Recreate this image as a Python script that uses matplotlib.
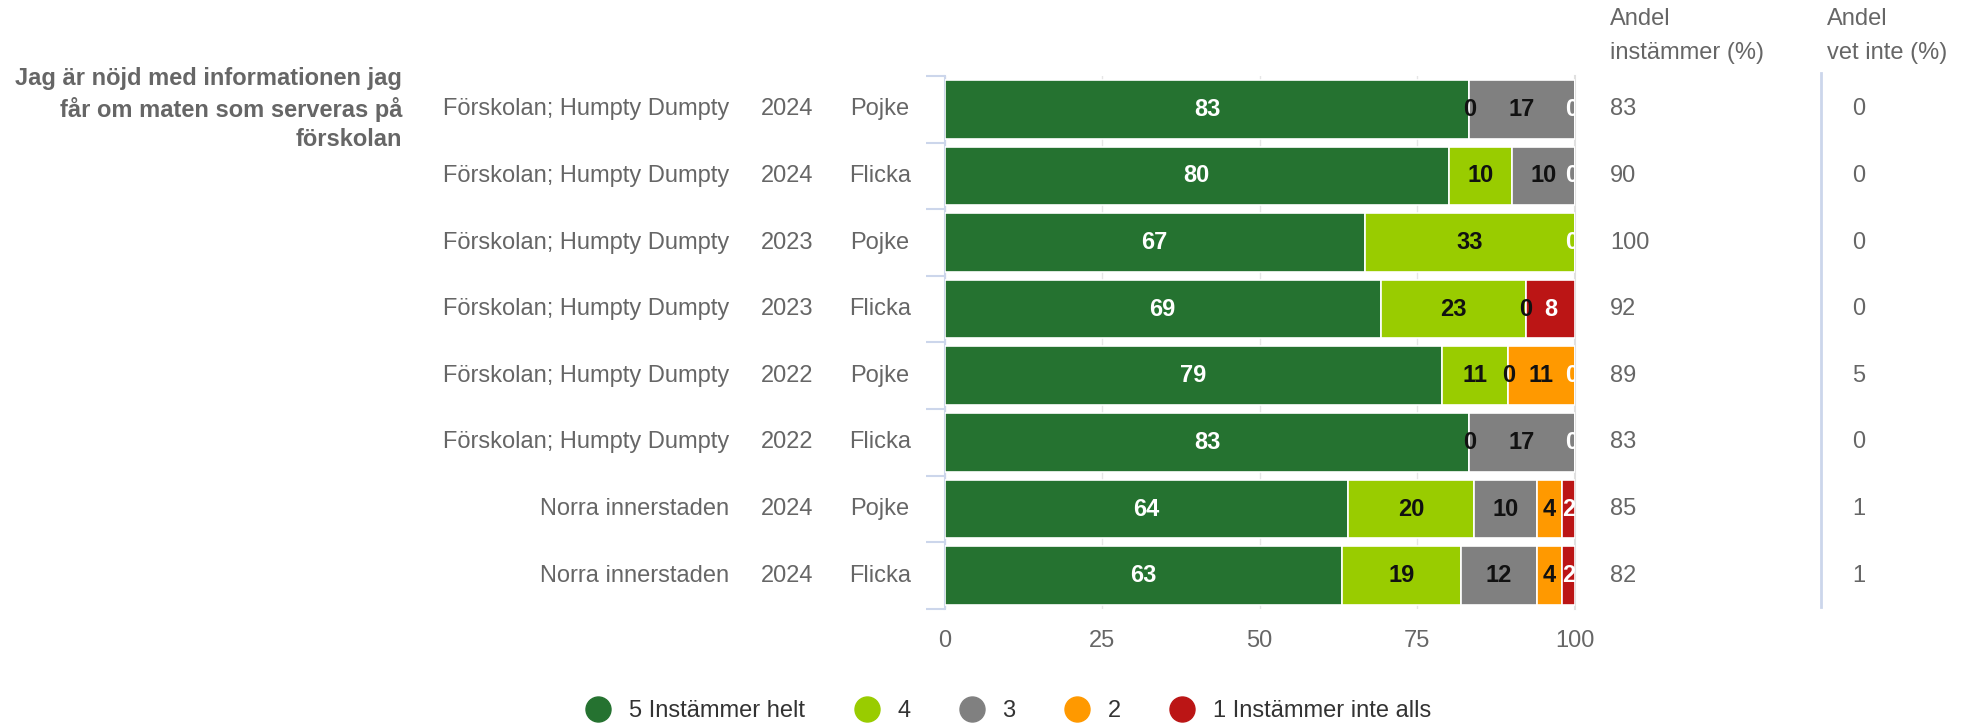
import numpy as np
import matplotlib
matplotlib.use("Agg")
import matplotlib.pyplot as plt
from matplotlib.transforms import blended_transform_factory
from matplotlib.lines import Line2D

plt.rcParams['font.family'] = ['Liberation Sans', 'DejaVu Sans']

question_lines = ["Jag är nöjd med informationen jag", "får om maten som serveras på", "förskolan"]
units = ["Förskolan; Humpty Dumpty"] * 6 + ["Norra innerstaden"] * 2
years = ["2024", "2024", "2023", "2023", "2022", "2022", "2024", "2024"]
genders = ["Pojke", "Flicka", "Pojke", "Flicka", "Pojke", "Flicka", "Pojke", "Flicka"]

series_names = ["5 Instämmer helt", "4", "3", "2", "1 Instämmer inte alls"]
series_colors = ["#257230", "#99cc00", "#808080", "#ff9900", "#bb1515"]
label_colors = ["white", "#111111", "#111111", "#111111", "white"]

# percent per answer, rows top to bottom
s5 = [83.3, 80.0, 66.7, 69.2, 78.94, 83.3, 64.0, 63.0]
s4 = [0.0, 10.0, 33.3, 23.1, 10.53, 0.0, 20.0, 19.0]
s3 = [16.7, 10.0, 0.0, 0.0, 0.0, 16.7, 10.0, 12.0]
s2 = [0.0, 0.0, 0.0, 0.0, 10.53, 0.0, 4.0, 4.0]
s1 = [0.0, 0.0, 0.0, 7.7, 0.0, 0.0, 2.0, 2.0]

andel_instammer = [83, 90, 100, 92, 89, 83, 85, 82]
andel_vet_inte = [0, 0, 0, 0, 5, 0, 1, 1]

data = np.array([s5, s4, s3, s2, s1])
n = len(units)
y = np.arange(n)

fig = plt.figure(figsize=(19.72, 7.27), dpi=100)
ax = fig.add_axes([0.479, 0.1623, 0.3195, 0.7332])

gray = "#666666"
fs = 17

left = np.zeros(n)
for i in range(5):
    ax.barh(y, data[i], left=left, height=0.88, color=series_colors[i],
            edgecolor="white", linewidth=1.2, zorder=3)
    left = left + data[i]

# data labels (zero labels at the same spot: keep the last one)
for r in range(n):
    start = 0.0
    pos = []
    for i in range(5):
        pos.append(start + data[i, r] / 2)
        start += data[i, r]
    for i in range(5):
        v = data[i, r]
        if v == 0:
            later = [j for j in range(i + 1, 5) if data[j, r] == 0 and abs(pos[j] - pos[i]) < 0.5]
            if later:
                continue
        x = min(pos[i], 99.6)
        ax.text(x, r, f"{v:.0f}", ha="center", va="center", fontsize=fs,
                fontweight="bold", color=label_colors[i], zorder=5, clip_on=True)

ax.set_xlim(0, 100)
ax.set_ylim(n - 0.5, -0.5)
ax.set_xticks([0, 25, 50, 75, 100])
ax.tick_params(axis="x", length=0, labelsize=fs, labelcolor=gray, pad=15)
ax.set_yticks(np.arange(-0.5, n, 1.0))
ax.set_yticklabels([])
ax.tick_params(axis="y", length=14, width=1.5, color="#ccd6eb", direction="out")
ax.grid(axis="x", color="#e6e6e6", linewidth=1, zorder=0)
for s in ["top", "bottom"]:
    ax.spines[s].set_visible(False)
ax.spines["left"].set_color("#ccd6eb")
ax.spines["left"].set_linewidth(1.5)
ax.spines["right"].set_color("#e0e0e0")
ax.spines["right"].set_linewidth(1.5)

# category labels and side columns
tr = blended_transform_factory(fig.transFigure, ax.transData)
for r in range(n):
    fig.text(729 / 1972, r, units[r], transform=tr, ha="right", va="center", fontsize=fs, color=gray)
    fig.text(787 / 1972, r, years[r], transform=tr, ha="center", va="center", fontsize=fs, color=gray)
    fig.text(880 / 1972, r, genders[r], transform=tr, ha="center", va="center", fontsize=fs, color=gray)
    fig.text(1610 / 1972, r, str(andel_instammer[r]), transform=tr, ha="left", va="center", fontsize=fs, color=gray)
    fig.text(1859 / 1972, r, str(andel_vet_inte[r]), transform=tr, ha="center", va="center", fontsize=fs, color=gray)

for k, line in enumerate(question_lines):
    fig.text(402 / 1972, 1 - (78 + 31 * k) / 727, line, ha="right", va="center",
             fontsize=fs, fontweight="bold", color=gray)

fig.text(1610 / 1972, 1 - 19 / 727, "Andel", ha="left", va="center", fontsize=fs, color=gray)
fig.text(1610 / 1972, 1 - 53 / 727, "instämmer (%)", ha="left", va="center", fontsize=fs, color=gray)
fig.text(1827 / 1972, 1 - 19 / 727, "Andel", ha="left", va="center", fontsize=fs, color=gray)
fig.text(1827 / 1972, 1 - 53 / 727, "vet inte (%)", ha="left", va="center", fontsize=fs, color=gray)

fig.add_artist(Line2D([1821 / 1972, 1821 / 1972], [1 - 73 / 727, 1 - 607 / 727],
                      transform=fig.transFigure, color="#ccd6eb", linewidth=2))

handles = [Line2D([], [], marker="o", linestyle="none", markersize=18,
                  markerfacecolor=c, markeredgecolor=c) for c in series_colors]
fig.legend(handles, series_names, loc="center", bbox_to_anchor=(1003 / 1972, 1 - 711 / 727),
           ncol=5, frameon=False, fontsize=fs, labelcolor="#333333",
           handletextpad=0.3, columnspacing=1.6)

fig.savefig("out.png", dpi=100)
